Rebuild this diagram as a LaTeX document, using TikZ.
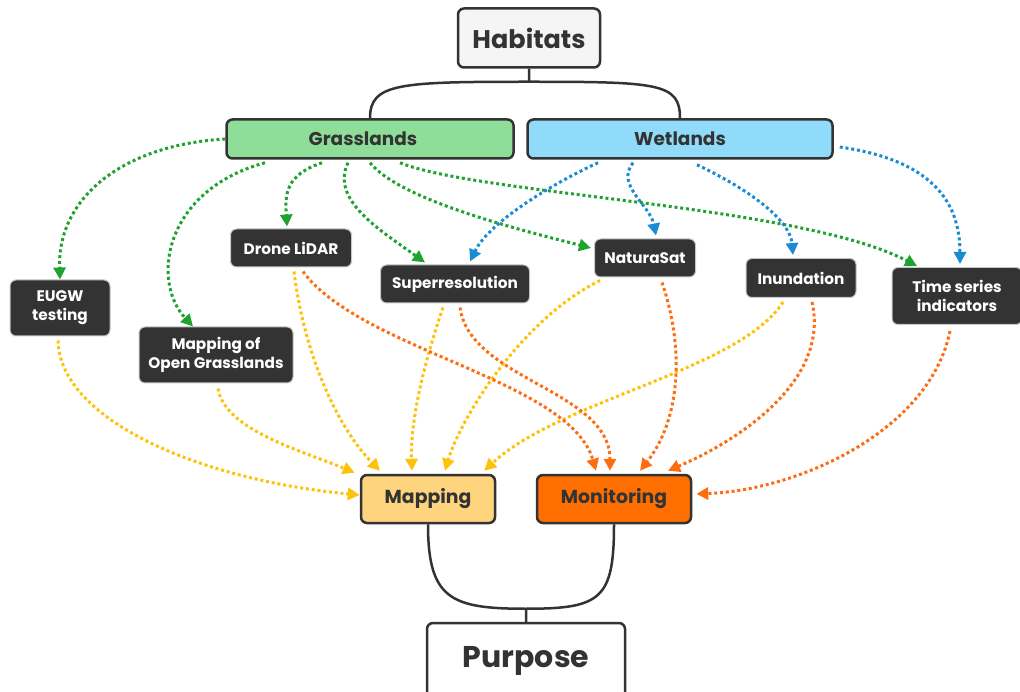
\documentclass[tikz,border=0pt]{standalone}
\usepackage{fontspec}
\setmainfont{Poppins}
\usetikzlibrary{arrows.meta,calc}

\definecolor{darkbox}{HTML}{333333}
\definecolor{grasgreen}{HTML}{8EDD98}
\definecolor{wetblue}{HTML}{8FDBF9}
\definecolor{mapyellow}{HTML}{FFD47F}
\definecolor{monorange}{HTML}{FF6F00}
\definecolor{greenline}{HTML}{1FA22E}
\definecolor{blueline}{HTML}{1B8BD2}
\definecolor{yellowline}{HTML}{FFC20A}
\definecolor{orangeline}{HTML}{FF6D12}

\tikzset{
  box/.style={draw=darkbox, line width=2.5, rounded corners=6, inner sep=0,
    text=darkbox, align=center},
  tool/.style={fill=darkbox, draw=gray!45, line width=1, rounded corners=6, inner sep=0,
    text=white, align=center, font=\bfseries\fontsize{15.3}{19}\selectfont},
  link/.style={line width=3, dash pattern=on 3 off 2.8, -{Triangle[length=12,width=12]}},
  bracket/.style={draw=darkbox, line width=2.5},
}

\begin{document}
\begin{tikzpicture}[x=1pt,y=-1pt]
    \useasboundingbox (0,0) rectangle (1020,692);

    %Top
    \node[box, fill=gray!8, minimum width=142, minimum height=59,
      font=\bfseries\fontsize{25.5}{30}\selectfont] (hab) at (529,38) {Habitats};
    \node[box, fill=grasgreen, minimum width=287, minimum height=39,
      font=\bfseries\fontsize{18.5}{22}\selectfont] (gras) at (370,139) {\hspace*{-14pt}Grasslands};
    \node[box, fill=wetblue, minimum width=305, minimum height=39,
      font=\bfseries\fontsize{18.5}{22}\selectfont] (wet) at (680,139) {Wetlands};

    \draw[bracket] (gras.north) .. controls +(0,-35) and +(-130,0) .. ([yshift=-13]hab.south) -- (hab.south);
    \draw[bracket] (wet.north) .. controls +(0,-35) and +(130,0) .. ([yshift=-13]hab.south);

    %Middle
    \node[tool, minimum width=121, minimum height=38] (drone) at (291,248) {Drone LiDAR};
    \node[tool, minimum width=149, minimum height=38] (super) at (455,284) {Superresolution};
    \node[tool, minimum width=101, minimum height=38] (natura) at (645,258) {NaturaSat};
    \node[tool, minimum width=110, minimum height=39] (inund) at (801,278) {Inundation};
    \node[tool, minimum width=130, minimum height=57] (ts) at (957,296) {Time series\\indicators};
    \node[tool, minimum width=100, minimum height=56] (eugw) at (60,308) {EUGW\\testing};
    \node[tool, minimum width=154, minimum height=56] (mog) at (216,355) {Mapping of\\Open Grasslands};

    %Bottom
    \node[box, fill=mapyellow, minimum width=134, minimum height=48,
      font=\bfseries\fontsize{18.8}{22}\selectfont] (mapping) at (428,499) {Mapping};
    \node[box, fill=monorange, minimum width=154, minimum height=48,
      font=\bfseries\fontsize{18.8}{22}\selectfont] (monit) at (614,499) {Monitoring};
    \node[box, fill=white, minimum width=198, minimum height=76,
      font=\bfseries\fontsize{30}{34}\selectfont] (purpose) at (526,661) {Purpose};

    \draw[bracket] (mapping.south) .. controls +(0,75) and +(-75,0) .. ([yshift=13]purpose.north) -- (purpose.north);
    \draw[bracket] (monit.south) .. controls +(0,75) and +(75,0) .. ([yshift=13]purpose.north);

    %Grasslands
    \draw[link, greenline] (gras.west) .. controls (120,145) and (57,200) .. (eugw.north);
    \draw[link, greenline] ([xshift=-105,yshift=-3]gras.south) .. controls (165,190) and (150,280) .. ([xshift=-23]mog.north);
    \draw[link, greenline] ([xshift=-48,yshift=-3]gras.south) .. controls (285,175) and (285,195) .. ([xshift=-4,yshift=2]drone.north);
    \draw[link, greenline] ([xshift=-22,yshift=-3]gras.south) .. controls (330,200) and (380,230) .. ([xshift=-30,yshift=2]super.north);
    \draw[link, greenline] ([yshift=-3]gras.south) .. controls (400,200) and (520,230) .. ([xshift=-3,yshift=10]natura.west);
    \draw[link, greenline] ([xshift=30,yshift=-3]gras.south) .. controls (480,195) and (800,205) .. ([xshift=-40,yshift=1]ts.north);

    %Wetlands
    \draw[link, blueline] ([xshift=-82,yshift=-3]wet.south) .. controls (560,180) and (490,220) .. ([xshift=15,yshift=3]super.north);
    \draw[link, blueline] ([xshift=-47,yshift=-3]wet.south) .. controls (615,185) and (650,205) .. ([xshift=11,yshift=3]natura.north);
    \draw[link, blueline] ([xshift=17,yshift=-5]wet.south) .. controls (750,190) and (790,220) .. ([xshift=-8,yshift=3]inund.north);
    \draw[link, blueline] ([xshift=6,yshift=-8]wet.east) .. controls (930,160) and (960,200) .. ([xshift=3,yshift=3]ts.north);

    %to Mapping
    \draw[link, yellowline] ([xshift=-2,yshift=-4]eugw.south) .. controls (60,420) and (200,480) .. ([yshift=4]mapping.west);
    \draw[link, yellowline] ([xshift=2,yshift=-5]mog.south) .. controls (225,430) and (300,450) .. ([xshift=-5,yshift=1]mapping.north west);
    \draw[link, yellowline] ([xshift=3,yshift=-4]drone.south) .. controls (305,360) and (340,430) .. ([xshift=-48,yshift=3]mapping.north);
    \draw[link, yellowline] ([xshift=-12,yshift=-4]super.south) .. controls (425,360) and (410,420) .. ([xshift=-16,yshift=3]mapping.north);
    \draw[link, yellowline] ([xshift=-45,yshift=-3]natura.south) .. controls (520,320) and (460,420) .. ([xshift=17,yshift=3]mapping.north);
    \draw[link, yellowline] ([xshift=-18,yshift=-4]inund.south) .. controls (740,370) and (560,400) .. ([xshift=-12,yshift=3]mapping.north east);

    %to Monitoring
    \draw[link, orangeline] ([xshift=12,yshift=-4]drone.south) .. controls (360,350) and (570,380) .. ([xshift=-18,yshift=3]monit.north);
    \draw[link, orangeline] ([xshift=5,yshift=-4]super.south) .. controls (470,380) and (610,390) .. ([xshift=-4,yshift=3]monit.north);
    \draw[link, orangeline] ([xshift=17,yshift=-5]natura.south) .. controls (685,350) and (680,420) .. ([xshift=26,yshift=3]monit.north);
    \draw[link, orangeline] ([xshift=11,yshift=-4]inund.south) .. controls (830,380) and (740,440) .. ([xshift=54,yshift=3]monit.north);
    \draw[link, orangeline] ([xshift=-7,yshift=-6]ts.south) .. controls (930,430) and (800,490) .. ([xshift=4,yshift=5]monit.east);
\end{tikzpicture}
\end{document}
